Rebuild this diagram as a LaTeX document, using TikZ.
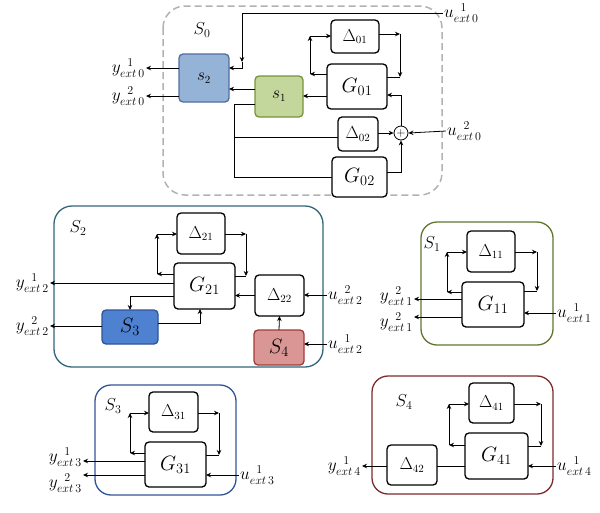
\documentclass[tikz,border=0pt]{standalone}
\usepackage{fontspec}
\setmainfont{Liberation Serif}
\usetikzlibrary{arrows.meta}
\definecolor{sbl}{HTML}{95B3D7}\definecolor{sblb}{HTML}{4F6FA0}
\definecolor{sgr}{HTML}{C3D69B}\definecolor{sgrb}{HTML}{77933C}
\definecolor{sthree}{HTML}{4F81D1}\definecolor{sthreeb}{HTML}{2F5597}
\definecolor{sfour}{HTML}{D99694}\definecolor{sfourb}{HTML}{A33A3A}
\definecolor{btwo}{HTML}{31657A}\definecolor{bone}{HTML}{5F7530}
\definecolor{bthree}{HTML}{2F5597}\definecolor{bfour}{HTML}{7F2A2A}
\newcommand\bx[7]{\node[#6, minimum width={(#4-#2)*1pt}, minimum height={(#5-#3)*1pt}] (#1) at ({(#2+#4)/2},{(#3+#5)/2}) {#7};}
\newcommand\yl[3]{$#1_{\scriptstyle ext\,#2}^{\;\;\scriptstyle #3}$}
\begin{document}
\begin{tikzpicture}[x=1pt,y=-1pt,
 blk/.style={draw, rounded corners=4pt, line width=1.3pt, inner sep=0pt, outer sep=0pt, fill=white},
 gt/.style={font=\fontsize{22}{22}\selectfont},
 dt/.style={font=\fontsize{16}{16}\selectfont},
 lab/.style={font=\fontsize{16.5}{16.5}\selectfont, inner sep=1pt},
 frl/.style={font=\fontsize{18}{18}\selectfont},
 arr/.style={-{Stealth[length=5pt,width=4.5pt]}, line width=0.8pt},
 ln/.style={line width=0.8pt}]
\useasboundingbox (0,0) rectangle (600,512);
% ===== S0 =====
\draw[gray!60, dashed, dash pattern=on 7pt off 4pt, line width=1.5pt, rounded corners=22pt] (163,6) rectangle (442,195);
\node[frl] (S0lab) at (202,30) {$S_0$};
\bx{s2}{179}{54}{229}{102}{blk,fill=sbl,draw=sblb,dt}{$s_{2}$}
\bx{s1}{255}{76}{303}{117}{blk,fill=sgr,draw=sgrb,dt}{$s_{1}$}
\bx{G01}{327}{64}{387}{109}{blk,gt}{$G_{01}$}
\bx{D01}{331}{20}{379}{53}{blk,dt}{$\Delta_{01}$}
\bx{D02}{338}{117}{378}{151}{blk,dt}{$\Delta_{02}$}
\bx{G02}{332}{157}{387}{197}{blk,gt}{$G_{02}$}
\node[draw, circle, line width=0.8pt, minimum size=14pt, inner sep=0pt, fill=white, font=\fontsize{13}{13}\selectfont] (plus) at (401,133) {$+$};
\node[lab, anchor=west] (u01) at (443,13) {\yl{u}{0}{1}};
\node[lab, anchor=west] (u02) at (446,131) {\yl{u}{0}{2}};
\node[lab, anchor=east] (y01) at (146,68) {\yl{y}{0}{1}};
\node[lab, anchor=east] (y02) at (146,96) {\yl{y}{0}{2}};
\draw[arr] (u01.west) -| (242,62);
\draw[arr] (242,62) |- (s2.east|-0,68);
\draw[arr] (s2.west|-0,68) -- (y01.east);
\draw[arr] (s2.west|-0,96) -- (y02.east);
\draw[arr] (s1.west|-0,89) -- (s2.east|-0,89);
\draw[arr] (G01.west|-0,96) -- (s1.east|-0,96);
\draw[arr] (G01.west|-0,74) -- (310,74);
\draw[arr] (310,74) -- (310,36);
\draw[arr] (310,36) -- (D01.west|-0,36);
\draw[arr] (D01.east|-0,34) -- (400,34);
\draw[arr] (400,34) -- (400,77);
\draw[ln] (G01.east|-0,77) -- (400,77);
\draw[arr] (D02.east|-0,133) -- (plus.west);
\draw[arr] (G02.east|-0,172) -| (plus.south);
\draw[arr] (plus.north) |- (G01.east|-0,95);
\draw[arr] (u02.west) -- (plus.east);
\draw[ln] (s1.west|-0,104) -- (234,104) |- (G02.west|-0,177);
\draw[ln] (234,137) -- (D02.west|-0,137);
% ===== S2 =====
\draw[btwo, rounded corners=18pt, line width=1.3pt] (54,206) rectangle (323,367);
\node[frl] (S2lab) at (78,228) {$S_2$};
\bx{D21}{177}{213}{225}{254}{blk,dt}{$\Delta_{21}$}
\bx{G21}{174}{263}{235}{309}{blk,gt}{$G_{21}$}
\bx{D22}{255}{275}{304}{316}{blk,dt}{$\Delta_{22}$}
\bx{S3b}{102}{310}{158}{344}{blk,fill=sthree,draw=sthreeb,gt}{$S_3$}
\bx{S4b}{254}{330}{304}{365}{blk,fill=sfour,draw=sfourb,gt}{$S_4$}
\node[lab, anchor=east] (y21) at (50,283) {\yl{y}{2}{1}};
\node[lab, anchor=east] (y22) at (50,326) {\yl{y}{2}{2}};
\node[lab, anchor=west] (u22) at (327,295) {\yl{u}{2}{2}};
\node[lab, anchor=west] (u21) at (327,344) {\yl{u}{2}{1}};
\draw[arr] (G21.west|-0,283) -- (y21.east);
\draw[arr] (S3b.west|-0,326) -- (y22.east);
\draw[arr] (S3b.east|-0,323) -| (200,309);
\draw[arr] (G21.west|-0,296) -| (S3b.north);
\draw[arr] (G21.west|-0,274) -- (157,274);
\draw[arr] (157,274) -- (157,234);
\draw[arr] (157,234) -- (D21.west|-0,234);
\draw[arr] (D21.east|-0,234) -- (246,234);
\draw[arr] (246,234) -- (246,276);
\draw[ln] (G21.east|-0,276) -- (246,276);
\draw[arr] (D22.west) -- (G21.east|-D22.west);
\draw[arr] (u22.west) -- (D22.east|-u22.west);
\draw[arr] (S4b.north) -- (D22.south);
\draw[arr] (u21.west) -- (S4b.east|-u21.west);
% ===== S1 =====
\draw[bone, rounded corners=16pt, line width=1.3pt] (421,222) rectangle (553,345);
\node[frl] (S1lab) at (432,244) {$S_1$};
\bx{D11}{467}{231}{515}{272}{blk,dt}{$\Delta_{11}$}
\bx{G11}{462}{282}{524}{327}{blk,gt}{$G_{11}$}
\node[lab, anchor=east] (y11) at (414,296) {\yl{y}{1}{2}};
\node[lab, anchor=east] (y12) at (414,322) {\yl{y}{1}{2}};
\node[lab, anchor=west] (u11) at (556,313) {\yl{u}{1}{1}};
\draw[arr] (G11.west|-0,299) -- (414,299);
\draw[arr] (G11.west|-0,317) -- (414,317);
\draw[arr] (u11.west) -- (G11.east|-u11.west);
\draw[arr] (G11.west|-0,292) -- (447,292);
\draw[arr] (447,292) -- (447,252);
\draw[arr] (447,252) -- (D11.west|-0,252);
\draw[arr] (D11.east|-0,252) -- (537,252);
\draw[arr] (537,252) -- (537,291);
\draw[ln] (G11.east|-0,291) -- (537,291);
% ===== S3 =====
\draw[bthree, rounded corners=16pt, line width=1.3pt] (95,385) rectangle (236,495);
\node[frl] (S3lab) at (113,406) {$S_3$};
\bx{D31}{149}{392}{198}{432}{blk,dt}{$\Delta_{31}$}
\bx{G31}{145}{442}{206}{487}{blk,gt}{$G_{31}$}
\node[lab, anchor=east] (y31) at (83,457) {\yl{y}{3}{1}};
\node[lab, anchor=east] (y32) at (83,483) {\yl{y}{3}{2}};
\node[lab, anchor=west] (u31) at (239,475) {\yl{u}{3}{1}};
\draw[arr] (G31.west|-0,461) -- (83,461);
\draw[arr] (G31.west|-0,475) -- (83,475);
\draw[arr] (u31.west) -- (G31.east|-u31.west);
\draw[arr] (G31.west|-0,453) -- (130,453);
\draw[arr] (130,453) -- (130,413);
\draw[arr] (130,413) -- (D31.west|-0,413);
\draw[arr] (D31.east|-0,413) -- (219,413);
\draw[arr] (219,413) -- (219,455);
\draw[ln] (G31.east|-0,455) -- (219,455);
% ===== S4 =====
\draw[bfour, rounded corners=16pt, line width=1.3pt] (372,376) rectangle (553,494);
\node[frl] (S4lab) at (404,402) {$S_4$};
\bx{D41}{469}{383}{514}{423}{blk,dt}{$\Delta_{41}$}
\bx{G41}{465}{433}{528}{479}{blk,gt}{$G_{41}$}
\bx{D42}{387}{445}{437}{485}{blk,dt}{$\Delta_{42}$}
\node[lab, anchor=east] (y41) at (362,466) {\yl{y}{4}{1}};
\node[lab, anchor=west] (u41) at (556,466) {\yl{u}{4}{1}};
\draw[ln] (G41.west|-0,466) -- (D42.east|-0,466);
\draw[arr] (D42.west|-0,466) -- (y41.east);
\draw[arr] (u41.west) -- (G41.east|-u41.west);
\draw[arr] (G41.west|-0,445) -- (449,445);
\draw[arr] (449,445) -- (449,404);
\draw[arr] (449,404) -- (D41.west|-0,404);
\draw[arr] (D41.east|-0,404) -- (541,404);
\draw[arr] (541,404) -- (541,446);
\draw[ln] (G41.east|-0,446) -- (541,446);
\end{tikzpicture}
\end{document}
